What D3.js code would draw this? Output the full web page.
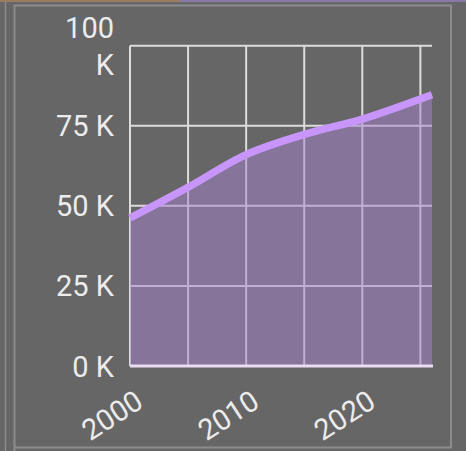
<!DOCTYPE html>
<html><head><meta charset="utf-8">
<script src="https://cdn.jsdelivr.net/npm/d3@7"></script>
<style>
html,body{margin:0;padding:0;background:#666666;}
svg{display:block;}
text{font-family:Roboto,"Noto Sans",sans-serif;}
</style></head>
<body>
<script>
const years  = [2000, 2005, 2010, 2015, 2020, 2026];
const values = [46200, 55800, 66000, 72300, 77100, 84700];
const yTicks = [0, 25000, 50000, 75000, 100000];
const xGridYears = [2000, 2005, 2010, 2015, 2020, 2025];
const xLabelYears = [2000, 2010, 2020];

const W = 466, H = 451;
const svg = d3.select("body").append("svg").attr("width", W).attr("height", H);

// frame
svg.append("rect").attr("x",0).attr("y",0).attr("width",180).attr("height",2).attr("fill","#9a7c5e");
svg.append("rect").attr("x",180).attr("y",0).attr("width",W-180).attr("height",2).attr("fill","#8a78a8");
svg.append("line").attr("x1",5.5).attr("x2",5.5).attr("y1",2).attr("y2",H).attr("stroke","#8c8c8c").attr("stroke-width",1.5);
svg.append("path").attr("d","M14.5,"+H+"V5.5H451V447.5H14.5").attr("fill","none").attr("stroke","#8c8c8c").attr("stroke-width",2);

const x = d3.scaleLinear().domain([2000, 2026]).range([130, 432]);
const y = d3.scaleLinear().domain([0, 100000]).range([366, 45.7]);

const g = svg.append("g");
g.selectAll(".hg").data(yTicks.filter(d=>d>0)).join("line")
  .attr("x1", x(2000)).attr("x2", x(2026)).attr("y1", d=>y(d)).attr("y2", d=>y(d))
  .attr("stroke", "#dcdcdc").attr("stroke-width", 2);
g.selectAll(".vg").data(xGridYears).join("line")
  .attr("x1", d=>x(d)).attr("x2", d=>x(d)).attr("y1", y(100000)).attr("y2", y(0))
  .attr("stroke", "#dcdcdc").attr("stroke-width", 2);

const pts = years.map((yr,i)=>({yr, v: values[i]}));
const area = d3.area().x(d=>x(d.yr)).y0(y(0)).y1(d=>y(d.v)).curve(d3.curveCatmullRom);
const line = d3.line().x(d=>x(d.yr)).y(d=>y(d.v)).curve(d3.curveCatmullRom);
g.append("path").attr("d", area(pts)).attr("fill", "rgb(166,129,208)").attr("fill-opacity", 0.5);
g.append("line").attr("x1", x(2000)).attr("x2", x(2026)+1).attr("y1", y(0)).attr("y2", y(0))
  .attr("stroke", "#eadcf5").attr("stroke-width", 3);
g.append("path").attr("d", line(pts)).attr("fill", "none").attr("stroke", "rgb(200,150,250)").attr("stroke-width", 7.5);

const fmt = d => (d/1000) + " K";
const yl = svg.append("g");
yTicks.forEach(d => {
  const t = yl.append("text").attr("text-anchor","end").attr("fill","#ececec").attr("font-size",29);
  if (d === 100000) {
    t.append("tspan").attr("x",114).attr("y", y(d)-8).text("100");
    t.append("tspan").attr("x",114).attr("y", y(d)+29).text("K");
  } else {
    t.attr("x",114).attr("y", y(d)+10.5).text(fmt(d));
  }
});

svg.append("g").selectAll("text").data(xLabelYears).join("text")
  .attr("text-anchor","end").attr("fill","#ececec").attr("font-size",29)
  .attr("transform", d => `translate(${x(d)+15},406) rotate(-33)`)
  .text(d => d);
</script>
</body></html>
